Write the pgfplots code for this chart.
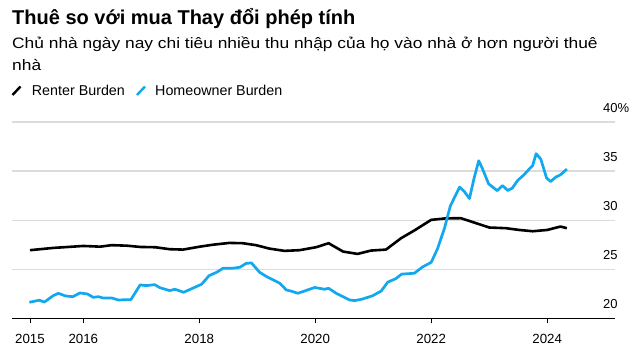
\documentclass[border=0pt]{standalone}
\usepackage{fontspec}
\setmainfont{Liberation Sans}
\newfontfamily\subfont[FakeStretch=1.15]{Liberation Sans}
\usepackage{pgfplots}
\pgfplotsset{compat=1.18}
\definecolor{hblue}{HTML}{12A8F0}
\definecolor{gridc}{HTML}{DCDCDC}
\begin{document}
\begin{tikzpicture}[x=1pt,y=1pt]
\useasboundingbox (0,0) rectangle (633,351);
% title, subtitle
\node[anchor=base west, inner sep=0pt, font=\fontsize{20}{23}\selectfont\bfseries] at (12,326) {Thuê so với mua Thay đổi phép tính};
\node[anchor=base west, inner sep=0pt, font=\subfont\fontsize{15.1}{18}\selectfont] at (12,302.7) {Chủ nhà ngày nay chi tiêu nhiều thu nhập của họ vào nhà ở hơn người thuê};
\node[anchor=base west, inner sep=0pt, font=\subfont\fontsize{15.1}{18}\selectfont] at (12,280) {nhà};
% legend
\draw[black, line width=2.4pt] (12.5,256) -- (20.5,264.5);
\node[anchor=base west, inner sep=0pt, font=\fontsize{14.3}{17}\selectfont] at (31.7,255) {Renter Burden};
\draw[hblue, line width=2.4pt] (137,256) -- (145,264.5);
\node[anchor=base west, inner sep=0pt, font=\fontsize{14.3}{17}\selectfont] at (155,255) {Homeowner Burden};
\begin{axis}[
  at={(12pt,32.7pt)}, anchor=south west,
  scale only axis, width=603pt, height=196.3pt,
  xmin=2014.77, xmax=2025.17, ymin=20, ymax=40,
  axis x line*=bottom, axis y line*=right,
  y axis line style={draw=none},
  x axis line style={black, line width=0.9pt},
  ytick={20,25,30,35,40},
  yticklabels={20,25,30,35,40\%},
  ymajorgrids, grid style={gridc, line width=1.2pt},
  ytick style={draw=none},
  xtick={2015.08,2016,2018,2020,2022,2024},
  xticklabels={2015,2016,2018,2020,2022,2024},
  xtick style={black, line width=0.8pt},
  tick align=outside, major tick length=5pt,
  yticklabel pos=right,
  yticklabel style={anchor=south west, inner sep=0pt, xshift=-17pt, yshift=9pt, font=\fontsize{13}{15}\selectfont},
  xticklabel style={anchor=north, inner sep=0pt, yshift=-11pt, font=\fontsize{13.3}{15}\selectfont},
  /pgf/number format/assume math mode=true,
  clip=false,
]
\addplot[black, line width=2.6pt, line join=round] coordinates {
(2015.08,26.94) (2015.48,27.17) (2016.0,27.37) (2016.29,27.3) (2016.49,27.45) (2016.75,27.4) (2016.98,27.27) (2017.24,27.24) (2017.49,27.04) (2017.72,27.0) (2018.01,27.3) (2018.24,27.5) (2018.52,27.68) (2018.75,27.65) (2018.98,27.45) (2019.21,27.1) (2019.47,26.87) (2019.73,26.94) (2020.02,27.25) (2020.23,27.65) (2020.48,26.8) (2020.73,26.56) (2020.96,26.9) (2021.22,27.0) (2021.48,28.16) (2021.71,28.95) (2022.0,30.03) (2022.25,30.18) (2022.51,30.2) (2022.74,29.76) (2023.0,29.25) (2023.29,29.18) (2023.52,29.0) (2023.75,28.87) (2024.0,29.0) (2024.23,29.35) (2024.34,29.18)
};
\addplot[hblue, line width=2.7pt, line join=round] coordinates {
(2015.07,21.63) (2015.24,21.84) (2015.33,21.66) (2015.48,22.3) (2015.57,22.55) (2015.69,22.28) (2015.82,22.2) (2015.94,22.58) (2016.07,22.48) (2016.17,22.14) (2016.26,22.2) (2016.34,22.07) (2016.49,22.07) (2016.60,21.87) (2016.82,21.9) (2016.98,23.4) (2017.09,23.33) (2017.23,23.43) (2017.32,23.12) (2017.49,22.82) (2017.58,22.96) (2017.73,22.65) (2017.87,23.02) (2018.04,23.47) (2018.17,24.35) (2018.30,24.69) (2018.41,25.1) (2018.58,25.1) (2018.70,25.2) (2018.81,25.6) (2018.90,25.64) (2019.04,24.69) (2019.16,24.25) (2019.39,23.57) (2019.50,22.89) (2019.59,22.76) (2019.70,22.55) (2019.85,22.85) (2019.99,23.14) (2020.16,22.96) (2020.23,23.06) (2020.36,22.55) (2020.48,22.2) (2020.59,21.87) (2020.68,21.8) (2020.82,21.97) (2020.99,22.3) (2021.14,22.79) (2021.25,23.68) (2021.39,24.04) (2021.49,24.5) (2021.71,24.59) (2021.85,25.23) (2022.00,25.7) (2022.11,27.1) (2022.23,29.2) (2022.33,31.45) (2022.49,33.37) (2022.57,32.92) (2022.66,32.2) (2022.74,34.29) (2022.82,36.05) (2022.88,35.3) (2022.99,33.7) (2023.14,33.0) (2023.23,33.53) (2023.32,33.02) (2023.40,33.27) (2023.49,34.04) (2023.60,34.62) (2023.69,35.2) (2023.75,35.57) (2023.81,36.77) (2023.89,36.22) (2023.99,34.29) (2024.06,33.94) (2024.15,34.39) (2024.23,34.62) (2024.34,35.2)
};
\end{axis}
\end{tikzpicture}
\end{document}
